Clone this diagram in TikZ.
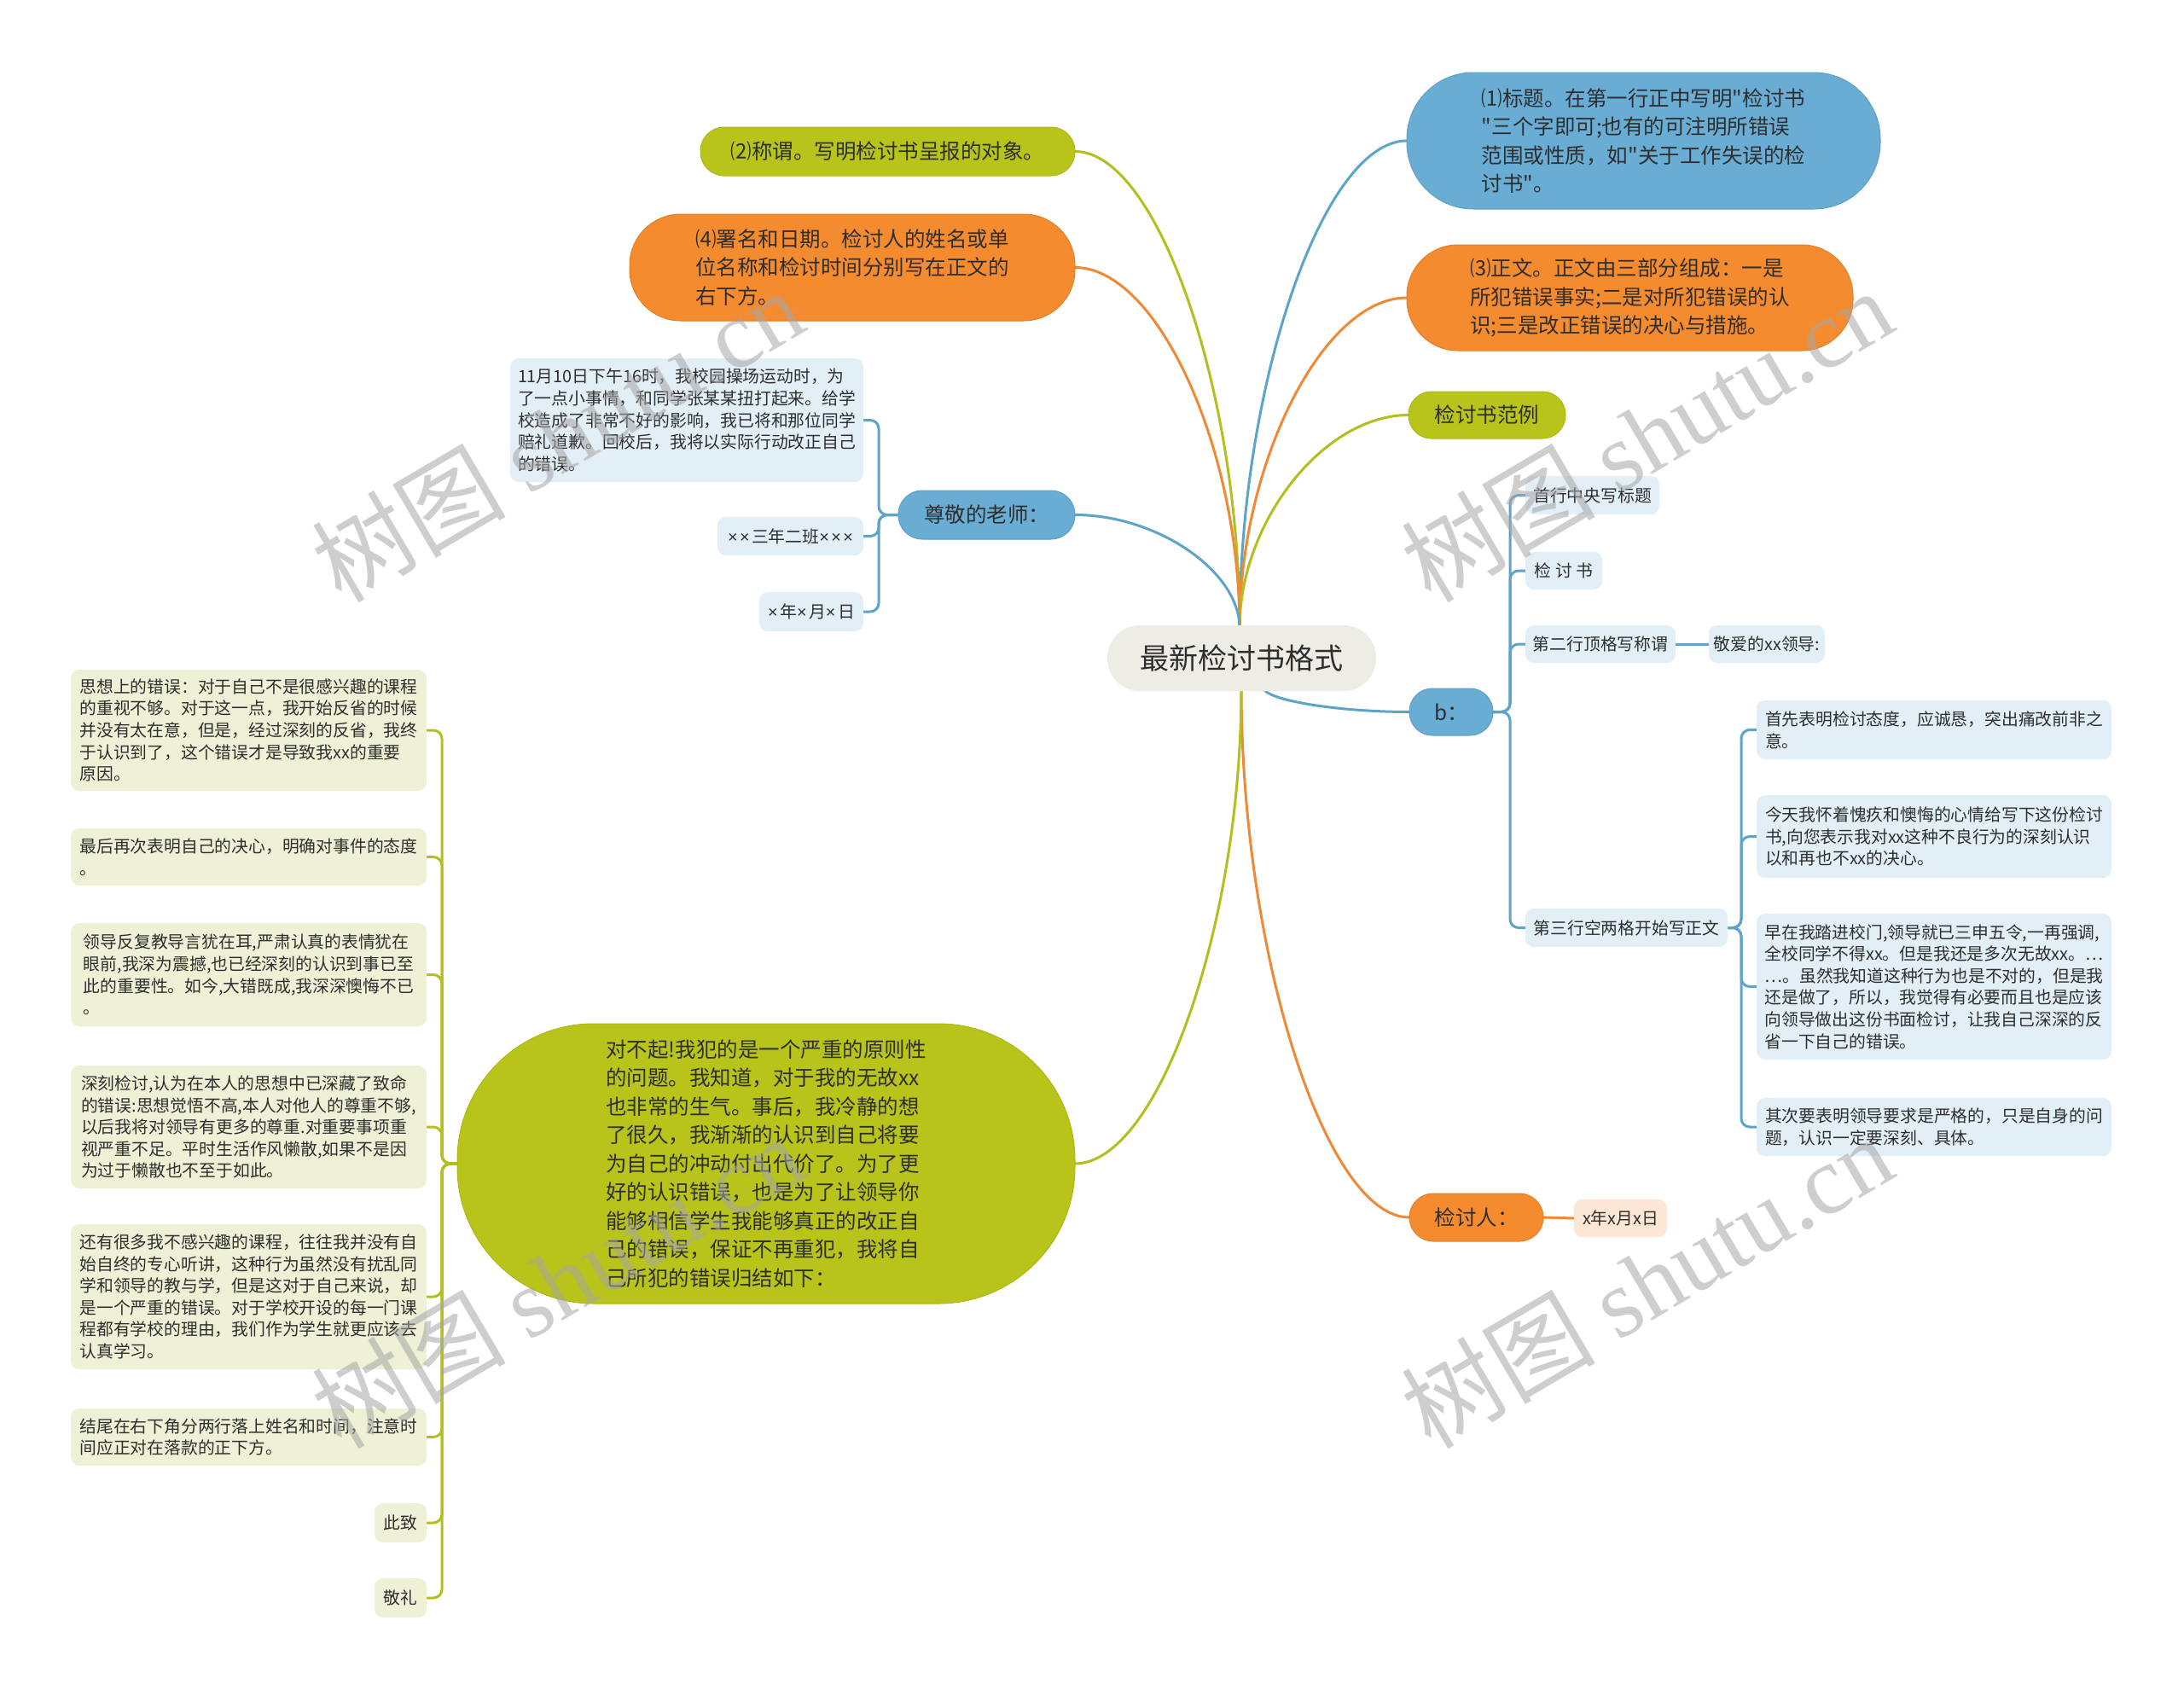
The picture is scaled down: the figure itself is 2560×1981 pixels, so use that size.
\documentclass[tikz,border=0pt]{standalone}
\usepackage{fontspec}
\setmainfont{Noto Sans CJK SC}
\newfontfamily\cjkplain{Noto Sans CJK SC}
\newfontfamily\wmserif{Liberation Serif}
\newfontfamily\latx{Liberation Sans}
\usetikzlibrary{calc}
\definecolor{cblue}{HTML}{6AADD4}
\definecolor{cbluedk}{HTML}{5E9FC6}
\definecolor{corange}{HTML}{F48B2E}
\definecolor{corangedk}{HTML}{E57E24}
\definecolor{cgreen}{HTML}{B9C41A}
\definecolor{cgreendk}{HTML}{ADB814}
\definecolor{ccenter}{HTML}{EEEDE5}
\definecolor{lblue}{HTML}{E2EFF6}
\definecolor{lgreen}{HTML}{EFF1D6}
\definecolor{lpeach}{HTML}{FCE6D4}
\definecolor{txt}{HTML}{2E2E2E}
\definecolor{lineblue}{HTML}{5EA3C8}
\definecolor{lineorange}{HTML}{EE8A35}
\definecolor{linegreen}{HTML}{B3BF1E}
\newcommand\mainf{\cjkplain\fontsize{24.5}{33.5}\selectfont}
\newcommand\leaff{\cjkplain\fontsize{19.8}{25.6}\selectfont}
\newcommand\tx{{\latx ×}\hspace{2.5pt}}
\pgfdeclarelayer{back}
\pgfdeclarelayer{bg}
\pgfdeclarelayer{front}
\pgfsetlayers{back,bg,main,front}
\begin{document}
\begin{tikzpicture}[x=1pt,y=-1pt,
  every node/.style={inner sep=0pt, outer sep=0pt, text=txt},
  bluebox/.style={fill=cblue, draw=cbluedk, line width=1pt, align=left, font=\mainf},
  orangebox/.style={fill=corange, draw=corangedk, line width=1pt, align=left, font=\mainf},
  greenbox/.style={fill=cgreen, draw=cgreendk, line width=1pt, align=left, font=\mainf},
  lbluebox/.style={fill=lblue, rounded corners=10, align=left, font=\leaff},
  lgreenbox/.style={fill=lgreen, rounded corners=10, align=left, font=\leaff},
  lpeachbox/.style={fill=lpeach, rounded corners=10, align=left, font=\leaff},
  br/.style={line width=3pt, to path={.. controls ($(\tikztostart)!0.5!(\tikztostart|-\tikztotarget)$) and ($(\tikztotarget)!0.5!(\tikztostart|-\tikztotarget)$) .. (\tikztotarget)}},
  leafln/.style={line width=3pt, rounded corners=10},
  eblue/.style={draw=lineblue},
  eorange/.style={draw=lineorange},
  egreen/.style={draw=linegreen},
  wm/.style={rotate=30.5, text=black!35, opacity=0.55, font=\cjkplain\fontsize{114}{114}\selectfont}
]
\begin{pgfonlayer}{back}
\fill[white] (0,0) rectangle (2560,1981);
\end{pgfonlayer}
\useasboundingbox (0,0) rectangle (2560,1981);

% central
\node[fill=ccenter, rounded corners=38, minimum width=315, minimum height=77, font=\cjkplain\fontsize{34}{34}\selectfont] (c) at (1455.5,771.5) {最新检讨书格式};

% right main
\node[bluebox, rounded corners=78, minimum width=555, minimum height=160] (n1) at (1926.5,165) {⑴标题。在第一行正中写明"检讨书\\"三个字即可;也有的可注明所错误\\范围或性质，如"关于工作失误的检\\讨书"。};
\node[orangebox, rounded corners=60, minimum width=523, minimum height=124] (n3) at (1910.5,349) {⑶正文。正文由三部分组成：一是\\所犯错误事实;二是对所犯错误的认\\识;三是改正错误的决心与措施。};
\node[greenbox, rounded corners=27, minimum width=184, minimum height=55] (fanli) at (1743,486.5) {检讨书范例};
\node[bluebox, rounded corners=27, minimum width=98, minimum height=55] (b) at (1701,834.5) {b：};
\node[orangebox, rounded corners=28, minimum width=157, minimum height=56] (jtr) at (1730.5,1427) {检讨人：};
\node[lpeachbox, minimum width=109, minimum height=44] (jtrd) at (1899.5,1428) {x年x月x日};

% left main
\node[greenbox, rounded corners=28, minimum width=439, minimum height=57] (n2) at (1040.5,177.5) {⑵称谓。写明检讨书呈报的对象。};
\node[orangebox, rounded corners=60, minimum width=522, minimum height=125] (n4) at (999,313.5) {⑷署名和日期。检讨人的姓名或单\\位名称和检讨时间分别写在正文的\\右下方。};
\node[bluebox, rounded corners=28, minimum width=207, minimum height=57] (tch) at (1156.5,603.5) {尊敬的老师：};
\node[greenbox, rounded corners=160, minimum width=724, minimum height=328] (big) at (898,1364) {对不起!我犯的是一个严重的原则性\\的问题。我知道，对于我的无故xx\\也非常的生气。事后，我冷静的想\\了很久，我渐渐的认识到自己将要\\为自己的冲动付出代价了。为了更\\好的认识错误，也是为了让领导你\\能够相信学生我能够真正的改正自\\己的错误，保证不再重犯，我将自\\己所犯的错误归结如下：};

% teacher leaves
\node[lbluebox, minimum width=414, minimum height=145] (t1) at (805,492.5) {11月10日下午16时，我校园操场运动时，为\\了一点小事情，和同学张某某扭打起来。给学\\校造成了非常不好的影响，我已将和那位同学\\赔礼道歉。回校后，我将以实际行动改正自己\\的错误。};
\node[lbluebox, minimum width=171, minimum height=45] (t2) at (926.5,628.5) {\tx\tx 三年二班\tx\tx{\latx ×}};
\node[lbluebox, minimum width=122, minimum height=46] (t3) at (951,717) {\tx 年\tx 月\tx 日};

% green leaves
\node[lgreenbox, minimum width=417, minimum height=142] (g1) at (291.5,856) {思想上的错误：对于自己不是很感兴趣的课程\\的重视不够。对于这一点，我开始反省的时候\\并没有太在意，但是，经过深刻的反省，我终\\于认识到了，这个错误才是导致我xx的重要\\原因。};
\node[lgreenbox, minimum width=417, minimum height=67] (g2) at (291.5,1004.5) {最后再次表明自己的决心，明确对事件的态度\\。};
\node[lgreenbox, minimum width=417, minimum height=121] (g3) at (291.5,1142.5) {领导反复教导言犹在耳,严肃认真的表情犹在\\眼前,我深为震撼,也已经深刻的认识到事已至\\此的重要性。如今,大错既成,我深深懊悔不已\\。};
\node[lgreenbox, minimum width=417, minimum height=144] (g4) at (291.5,1321) {深刻检讨,认为在本人的思想中已深藏了致命\\的错误:思想觉悟不高,本人对他人的尊重不够,\\以后我将对领导有更多的尊重.对重要事项重\\视严重不足。平时生活作风懒散,如果不是因\\为过于懒散也不至于如此。};
\node[lgreenbox, minimum width=417, minimum height=170] (g5) at (291.5,1520) {还有很多我不感兴趣的课程，往往我并没有自\\始自终的专心听讲，这种行为虽然没有扰乱同\\学和领导的教与学，但是这对于自己来说，却\\是一个严重的错误。对于学校开设的每一门课\\程都有学校的理由，我们作为学生就更应该去\\认真学习。};
\node[lgreenbox, minimum width=417, minimum height=67] (g6) at (291.5,1684.5) {结尾在右下角分两行落上姓名和时间，注意时\\间应正对在落款的正下方。};
\node[lgreenbox, minimum width=61, minimum height=46] (g7) at (469.5,1785) {此致};
\node[lgreenbox, minimum width=61, minimum height=46] (g8) at (469.5,1873) {敬礼};

% b leaves
\node[lbluebox, minimum width=157, minimum height=45] (b1) at (1866.5,580.5) {首行中央写标题};
\node[lbluebox, minimum width=90, minimum height=44] (b2) at (1833,669) {检 讨 书};
\node[lbluebox, minimum width=176, minimum height=44] (b3) at (1876,755) {第二行顶格写称谓};
\node[lbluebox, minimum width=136, minimum height=44] (b3a) at (2071,755) {敬爱的xx领导:};
\node[lbluebox, minimum width=237, minimum height=45] (b4) at (1906.5,1087.5) {第三行空两格开始写正文};
\node[lbluebox, minimum width=416, minimum height=69] (r1) at (2267,855.5) {首先表明检讨态度，应诚恳，突出痛改前非之\\意。};
\node[lbluebox, minimum width=416, minimum height=97] (r2) at (2267,980.5) {今天我怀着愧疚和懊悔的心情给写下这份检讨\\书,向您表示我对xx这种不良行为的深刻认识\\以和再也不xx的决心。};
\node[lbluebox, minimum width=416, minimum height=171] (r3) at (2267,1156.5) {早在我踏进校门,领导就已三申五令,一再强调,\\全校同学不得xx。但是我还是多次无故xx。…\\…。虽然我知道这种行为也是不对的，但是我\\还是做了，所以，我觉得有必要而且也是应该\\向领导做出这份书面检讨，让我自己深深的反\\省一下自己的错误。};
\node[lbluebox, minimum width=416, minimum height=68] (r4) at (2267,1321) {其次要表明领导要求是严格的，只是自身的问\\题，认识一定要深刻、具体。};

\begin{pgfonlayer}{bg}
\coordinate (ctop) at (1453,736);
\coordinate (cbot) at (1455,806);
\coordinate (cbr) at (1481,806);
\draw[br, eblue] (ctop) to (n1.west);
\draw[br, eorange] (ctop) to (n3.west);
\draw[br, egreen] (ctop) to (fanli.west);
\draw[br, egreen] (ctop) to (n2.east);
\draw[br, eorange] (ctop) to (n4.east);
\draw[br, eblue] (ctop) to (tch.east);
\draw[br, eblue] (cbr) to (b.west);
\draw[br, eorange] (cbot) to (jtr.west);
\draw[br, egreen] (cbot) to (big.east);
\draw[line width=3pt, eorange] (jtr.east) -- (jtrd.west);
\draw[line width=3pt, eblue] (b3.east) -- (b3a.west);
\foreach \t in {t1,t2,t3}
  \draw[leafln, eblue] (tch.west) -| ($(\t.east)+(18,0)$) -- (\t.east);
\foreach \t in {g1,g2,g3,g4,g5,g6,g7,g8}
  \draw[leafln, egreen] (big.west) -| ($(\t.east)+(18,0)$) -- (\t.east);
\foreach \t in {b1,b2,b3,b4}
  \draw[leafln, eblue] (b.east) -| ($(\t.west)+(-18,0)$) -- (\t.west);
\foreach \t in {r1,r2,r3,r4}
  \draw[leafln, eblue] (b4.east) -| ($(\t.west)+(-18,0)$) -- (\t.west);
\end{pgfonlayer}

\begin{pgfonlayer}{front}
\node[wm] (wm1) at (653,510) {树图 {\wmserif shutu.cn}};
\node[wm] (wm2) at (1930,510) {树图 {\wmserif shutu.cn}};
\node[wm] (wm3) at (653,1502) {树图 {\wmserif shutu.cn}};
\node[wm] (wm4) at (1930,1502) {树图 {\wmserif shutu.cn}};
\end{pgfonlayer}
\end{tikzpicture}
\end{document}
